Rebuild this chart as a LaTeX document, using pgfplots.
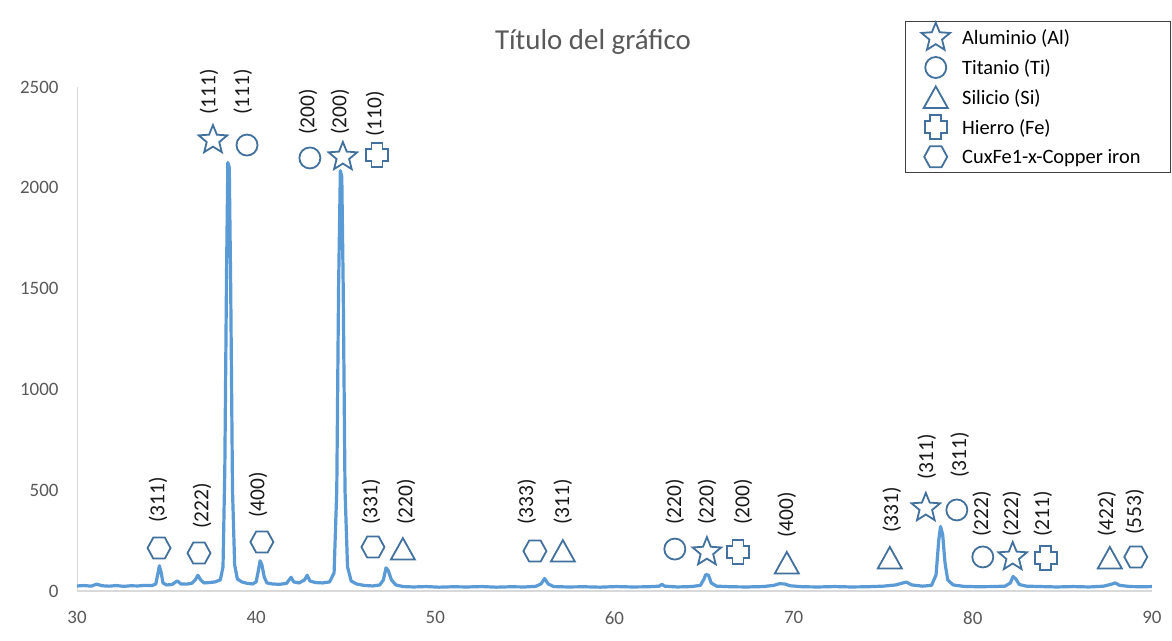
\documentclass[border=0pt]{standalone}
\usepackage{pgfplots}
\pgfplotsset{compat=1.18}
\usepackage{fontspec}
\setmainfont{Carlito}
\definecolor{serie}{HTML}{5B9BD5}
\definecolor{mk}{HTML}{41719C}
\definecolor{tick}{HTML}{595959}
\definecolor{axln}{HTML}{D9D9D9}
\pgfdeclareplotmark{pstar}{%
 \pgfpathmoveto{\pgfpointpolar{90}{15bp}}%
 \pgfpathlineto{\pgfpointpolar{126}{6.6bp}}%
 \pgfpathlineto{\pgfpointpolar{162}{15bp}}%
 \pgfpathlineto{\pgfpointpolar{198}{6.6bp}}%
 \pgfpathlineto{\pgfpointpolar{234}{15bp}}%
 \pgfpathlineto{\pgfpointpolar{270}{6.6bp}}%
 \pgfpathlineto{\pgfpointpolar{306}{15bp}}%
 \pgfpathlineto{\pgfpointpolar{342}{6.6bp}}%
 \pgfpathlineto{\pgfpointpolar{18}{15bp}}%
 \pgfpathlineto{\pgfpointpolar{54}{6.6bp}}%
 \pgfpathclose\pgfusepathqstroke}
\pgfdeclareplotmark{pcirc}{%
 \pgfpathcircle{\pgfpointorigin}{10.5bp}\pgfusepathqstroke}
\pgfdeclareplotmark{ptri}{%
 \pgfpathmoveto{\pgfqpoint{0bp}{11bp}}%
 \pgfpathlineto{\pgfqpoint{12bp}{-10.5bp}}%
 \pgfpathlineto{\pgfqpoint{-12bp}{-10.5bp}}%
 \pgfpathclose\pgfusepathqstroke}
\pgfdeclareplotmark{pcross}{%
 \pgfpathmoveto{\pgfqpoint{-5.5bp}{12bp}}%
 \pgfpathlineto{\pgfqpoint{5.5bp}{12bp}}%
 \pgfpathlineto{\pgfqpoint{5.5bp}{6bp}}%
 \pgfpathlineto{\pgfqpoint{11bp}{6bp}}%
 \pgfpathlineto{\pgfqpoint{11bp}{-6bp}}%
 \pgfpathlineto{\pgfqpoint{5.5bp}{-6bp}}%
 \pgfpathlineto{\pgfqpoint{5.5bp}{-12bp}}%
 \pgfpathlineto{\pgfqpoint{-5.5bp}{-12bp}}%
 \pgfpathlineto{\pgfqpoint{-5.5bp}{-6bp}}%
 \pgfpathlineto{\pgfqpoint{-11bp}{-6bp}}%
 \pgfpathlineto{\pgfqpoint{-11bp}{6bp}}%
 \pgfpathlineto{\pgfqpoint{-5.5bp}{6bp}}%
 \pgfpathclose\pgfusepathqstroke}
\pgfdeclareplotmark{phex}{%
 \pgfpathmoveto{\pgfqpoint{11.5bp}{0bp}}%
 \pgfpathlineto{\pgfqpoint{5.75bp}{10.5bp}}%
 \pgfpathlineto{\pgfqpoint{-5.75bp}{10.5bp}}%
 \pgfpathlineto{\pgfqpoint{-11.5bp}{0bp}}%
 \pgfpathlineto{\pgfqpoint{-5.75bp}{-10.5bp}}%
 \pgfpathlineto{\pgfqpoint{5.75bp}{-10.5bp}}%
 \pgfpathclose\pgfusepathqstroke}
\pgfplotsset{
  mkstyle/.style={only marks, mark=#1, mark options={draw=mk, line width=1.8bp, fill=none, solid},
    legend image code/.code={\begin{pgfinterruptboundingbox}\draw[##1] plot coordinates {(0bp,0bp)};\end{pgfinterruptboundingbox}\path (-2bp,-8bp) (24bp,8bp);}},
}
\begin{document}
\begin{tikzpicture}
\useasboundingbox (0,0) rectangle (1172bp,641bp);
\fill[white] (0,0) rectangle (1172bp,641bp);
\begin{axis}[
  at={(77bp,50bp)}, anchor=south west,
  scale only axis, width=1075bp, height=504bp,
  xmin=30, xmax=90, ymin=0, ymax=2500,
  xtick={30,40,...,90}, ytick={0,500,...,2500},
  axis x line=bottom, axis y line=left,
  x axis line style={draw=axln, line width=1.3bp, -},
  y axis line style={draw=axln, line width=1bp, -},
  major tick length=0pt,
  tick label style={font=\fontsize{19}{22}\selectfont, text=tick},
  /pgf/number format/assume math mode=true,
  /pgf/number format/1000 sep={},
  xticklabel style={yshift=-17bp},
  yticklabel style={xshift=-15bp},
  clip=false,
  legend cell align=left,
  legend style={at={(1.0177,0.8294)}, anchor=south east, draw=black!75, line width=0.8bp,
    font=\fontsize{20.5}{24}\selectfont, text=black, inner xsep=28bp, inner ysep=6bp, row sep=9.5bp},
]
\addplot[serie, line width=3.2bp, line join=round, forget plot] table {
30.0 25
30.4 27
30.8 24
31.1 34
31.4 26
31.8 24
32.2 27
32.6 23
33.0 26
33.4 25
33.8 28
34.2 27
34.4 35
34.5 80
34.6 125
34.7 90
34.8 40
35.0 30
35.3 32
35.6 50
35.8 35
36.1 34
36.4 38
36.6 55
36.75 78
36.9 55
37.1 40
37.4 42
37.7 45
38.0 55
38.15 120
38.25 600
38.35 1600
38.42 2125
38.5 2100
38.58 1500
38.68 500
38.8 130
38.95 60
39.2 45
39.5 38
39.8 35
40.0 45
40.12 100
40.22 150
40.32 130
40.45 70
40.6 40
40.9 35
41.3 33
41.7 38
41.95 68
42.1 45
42.4 40
42.7 55
42.85 78
43.0 50
43.3 42
43.7 40
44.1 45
44.35 90
44.5 500
44.6 1500
44.7 2085
44.78 2055
44.86 1500
44.96 500
45.1 120
45.3 50
45.6 35
46.0 28
46.5 25
46.9 30
47.1 55
47.25 115
47.38 100
47.55 55
47.8 30
48.2 22
48.8 20
49.5 22
50.2 19
51.0 21
51.8 20
52.6 22
53.4 19
54.2 21
55.0 20
55.6 23
55.9 35
56.1 62
56.3 35
56.6 22
57.4 20
58.3 21
59.2 19
60.1 22
61.0 20
61.9 21
62.5 24
62.65 33
62.8 24
63.5 20
64.3 22
64.8 28
65.0 60
65.1 82
65.25 78
65.4 40
65.7 24
66.5 21
67.4 20
68.3 22
68.9 28
69.2 36
69.5 35
69.8 26
70.5 21
71.4 20
72.3 22
73.2 20
74.1 21
75.0 24
75.7 30
76.1 40
76.3 44
76.6 30
77.2 24
77.7 28
77.95 80
78.1 250
78.2 320
78.32 280
78.45 140
78.6 55
78.9 30
79.5 23
80.3 21
81.1 22
81.8 24
82.1 40
82.25 72
82.4 60
82.6 32
83.0 24
83.8 22
84.7 20
85.6 22
86.5 20
87.3 24
87.8 35
87.95 40
88.2 28
88.8 22
89.5 21
90.0 22
};
\addplot[mkstyle=pstar] coordinates {(37.59,2237) (44.84,2153) (65.16,193) (77.38,412) (82.23,169)};
\addlegendentry{Aluminio (Al)}
\addplot[mkstyle=pcirc] coordinates {(39.49,2212) (43.00,2148) (63.37,208) (79.11,402) (80.56,169)};
\addlegendentry{Titanio (Ti)}
\addplot[mkstyle=ptri] coordinates {(48.19,208) (57.12,198) (69.62,139) (75.37,164) (87.65,164)};
\addlegendentry{Silicio (Si)}
\addplot[mkstyle=pcross] coordinates {(46.74,2163) (66.89,193) (84.07,164)};
\addlegendentry{Hierro (Fe)}
\addplot[mkstyle=phex] coordinates {(34.58,213) (36.81,188) (40.32,243) (46.52,218) (55.56,198) (89.10,169)};
\addlegendentry{CuxFe1-x-Copper iron}
\addplot[forget plot, only marks, mark=none, point meta=explicit symbolic,
  nodes near coords,
  every node near coord/.append style={rotate=90, anchor=west, inner sep=0pt,
    font=\fontsize{21.5}{22}\selectfont, text=black!90}]
  table[meta=lab] {
x y lab
37.37 2361 (111)
39.26 2361 (111)
42.89 2262 (200)
44.68 2262 (200)
46.63 2252 (110)
34.52 337 (311)
36.98 308 (222)
40.10 362 (400)
46.41 327 (331)
48.36 327 (220)
55.11 327 (333)
57.12 327 (311)
63.37 327 (220)
65.16 327 (220)
67.17 327 (200)
69.62 263 (400)
75.48 288 (331)
77.43 551 (311)
79.28 560 (311)
80.50 268 (222)
82.18 268 (222)
83.91 268 (211)
87.48 268 (422)
89.04 278 (553)
};
\end{axis}
\node[text=tick, font=\fontsize{29}{32}\selectfont] at (593bp,599bp) {Título del gráfico};
\end{tikzpicture}
\end{document}
